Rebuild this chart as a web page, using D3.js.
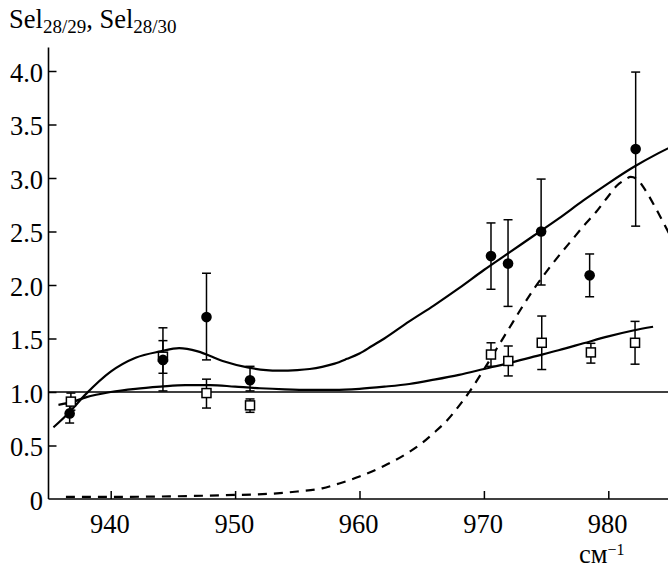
<!DOCTYPE html>
<html>
<head>
<meta charset="utf-8">
<script src="https://cdn.jsdelivr.net/npm/d3@7/dist/d3.min.js"></script>
<style>
  body { margin: 0; background: #fff; }
  svg { display: block; }
  svg text { font-family: "Liberation Serif", "Times New Roman", Times, serif; }
</style>
</head>
<body>
<svg id="chart" width="668" height="569"></svg>
<script>
// Axis ticks
const xTicks = [940, 950, 960, 970, 980];
const yTicks = [0, 0.5, 1.0, 1.5, 2.0, 2.5, 3.0, 3.5, 4.0];

// Sel 28/29 measurements (filled circles) with error bounds
const circWave = [936.7, 944.2, 947.7, 951.2, 970.57, 971.94, 974.6, 978.5, 982.2];
const circVal  = [0.80, 1.30, 1.70, 1.11, 2.27, 2.20, 2.50, 2.09, 3.27];
const circLow  = [0.71, 1.01, 1.30, 1.01, 1.96, 1.80, 2.00, 1.89, 2.55];
const circHigh = [0.89, 1.60, 2.11, 1.24, 2.58, 2.61, 2.99, 2.29, 3.99];

// Sel 28/30 measurements (open squares) with error bounds
const sqWave = [936.8, 944.2, 947.7, 951.2, 970.57, 971.96, 974.65, 978.6, 982.15];
const sqVal  = [0.91, 1.33, 0.99, 0.875, 1.35, 1.29, 1.46, 1.37, 1.46];
const sqLow  = [0.83, 1.175, 0.85, 0.81, 1.24, 1.15, 1.21, 1.27, 1.26];
const sqHigh = [0.99, 1.48, 1.12, 0.935, 1.46, 1.43, 1.71, 1.455, 1.66];

// Calculated curve for Sel 28/29 (upper solid line)
const fit29Wave = [935.4, 936.5, 938, 940, 942, 944, 945.5, 947, 949, 951, 952.5, 953.5, 955, 956, 957, 958, 959, 960, 961, 962, 964, 966, 968, 970, 972, 974, 976, 978, 980, 982, 984, 985.2];
const fit29Val  = [0.67, 0.79, 0.98, 1.19, 1.32, 1.38, 1.41, 1.38, 1.29, 1.23, 1.205, 1.20, 1.205, 1.215, 1.235, 1.265, 1.31, 1.36, 1.43, 1.50, 1.66, 1.81, 1.97, 2.14, 2.30, 2.46, 2.62, 2.79, 2.95, 3.10, 3.23, 3.30];

// Calculated curve for Sel 28/30 (lower solid line)
const fit30Wave = [935.8, 937, 938, 940, 942, 944, 946, 948, 950, 952, 954, 956, 958, 960, 962, 964, 966, 968, 970, 972, 974, 976, 978, 980, 982, 983.6];
const fit30Val  = [0.88, 0.91, 0.95, 1.00, 1.03, 1.05, 1.065, 1.065, 1.05, 1.035, 1.025, 1.02, 1.02, 1.03, 1.05, 1.075, 1.115, 1.16, 1.215, 1.27, 1.33, 1.39, 1.455, 1.52, 1.575, 1.61];

// Absorption profile (dashed line)
const bandWave = [936.4, 940, 945, 949, 953, 955, 957, 958.5, 960, 962, 964, 965, 966, 967, 968, 969, 970, 971, 972, 973, 974, 975, 976, 977, 978, 979, 980, 980.7, 981.3, 981.8, 982.3, 982.9, 983.8, 984.8, 985.5];
const bandVal  = [0.02, 0.02, 0.025, 0.035, 0.05, 0.07, 0.10, 0.15, 0.21, 0.31, 0.44, 0.52, 0.62, 0.73, 0.87, 1.03, 1.21, 1.40, 1.59, 1.78, 1.96, 2.12, 2.27, 2.41, 2.55, 2.68, 2.83, 2.93, 2.98, 3.01, 2.99, 2.90, 2.72, 2.50, 2.34];

const svg = d3.select("#chart");
const W = 668;
const FS = 26.5;     // main text size
const FSsub = 19;    // subscript size

const x = d3.scaleLinear().domain([935, 985]).range([48.5, 670.5]);
const y = d3.scaleLinear().domain([0, 4]).range([499, 71]);

const plot = svg.append("g");

// Clip to the plotting area
svg.append("defs").append("clipPath").attr("id", "clip")
  .append("rect").attr("x", 49).attr("y", 40).attr("width", W - 49).attr("height", 460);

// Axes (ticks point into the plot)
const xAxis = d3.axisBottom(x).tickValues(xTicks).tickSizeInner(-8).tickSizeOuter(0).tickFormat("");
const yAxis = d3.axisLeft(y).tickValues(yTicks.filter(d => d > 0)).tickSizeInner(-8).tickSizeOuter(0).tickFormat("");

const gx = plot.append("g").attr("transform", `translate(0,${y(0)})`).call(xAxis);
const gy = plot.append("g").attr("transform", `translate(${x(935)},0)`).call(yAxis);
[gx, gy].forEach(g => {
  g.select(".domain").remove();
  g.selectAll(".tick line").attr("stroke", "#000").attr("stroke-width", 1.5);
});

// Axis lines
plot.append("line").attr("x1", x(935)).attr("x2", W).attr("y1", y(0)).attr("y2", y(0))
  .attr("stroke", "#000").attr("stroke-width", 1.6);
plot.append("line").attr("x1", x(935)).attr("x2", x(935)).attr("y1", y(4.22)).attr("y2", y(0))
  .attr("stroke", "#000").attr("stroke-width", 1.6);

// Reference level Sel = 1
plot.append("line").attr("x1", x(935)).attr("x2", W).attr("y1", y(1)).attr("y2", y(1))
  .attr("stroke", "#000").attr("stroke-width", 1.4);

// Tick labels
plot.selectAll(".ylab").data(yTicks).join("text")
  .attr("class", "ylab")
  .attr("x", 43).attr("y", d => y(d) + 10.5)
  .attr("text-anchor", "end")
  .attr("font-size", FS)
  .text(d => d === 0 ? "0" : d3.format(".1f")(d));

plot.selectAll(".xlab").data(xTicks).join("text")
  .attr("class", "xlab")
  .attr("x", d => x(d) - 0.8).attr("y", y(0) + 34.3)
  .attr("text-anchor", "middle")
  .attr("font-size", FS)
  .text(d => d);

// Axis titles
const yt = svg.append("text").attr("x", 9).attr("y", 28.3).attr("font-size", FS);
yt.append("tspan").text("Sel");
yt.append("tspan").attr("font-size", FSsub).attr("dy", 5).text("28/29");
yt.append("tspan").attr("dy", -5).text(", Sel");
yt.append("tspan").attr("font-size", FSsub).attr("dy", 5).text("28/30");

const xt = svg.append("text").attr("x", 579).attr("y", 563).attr("font-size", FS);
xt.append("tspan").text("см");
xt.append("tspan").attr("font-size", 16).attr("dy", -8).text("−1");

// Curves
const lineGen = d3.line().x(d => x(d[0])).y(d => y(d[1])).curve(d3.curveMonotoneX);
const curves = plot.append("g").attr("clip-path", "url(#clip)");
curves.append("path").datum(d3.zip(fit29Wave, fit29Val)).attr("d", lineGen)
  .attr("fill", "none").attr("stroke", "#000").attr("stroke-width", 2.2);
curves.append("path").datum(d3.zip(fit30Wave, fit30Val)).attr("d", lineGen)
  .attr("fill", "none").attr("stroke", "#000").attr("stroke-width", 2.2);
curves.append("path").datum(d3.zip(bandWave, bandVal)).attr("d", lineGen)
  .attr("fill", "none").attr("stroke", "#000").attr("stroke-width", 2.2)
  .attr("stroke-dasharray", "9,7");

// Error bars
function errorBars(wave, low, high) {
  const g = plot.append("g").attr("stroke", "#000").attr("stroke-width", 1.5);
  const rows = d3.range(wave.length).map(i => ({ w: wave[i], lo: low[i], hi: high[i] }));
  g.selectAll(".v").data(rows).join("line")
    .attr("x1", d => x(d.w)).attr("x2", d => x(d.w))
    .attr("y1", d => y(d.lo)).attr("y2", d => y(d.hi));
  g.selectAll(".cl").data(rows).join("line")
    .attr("x1", d => x(d.w) - 4.5).attr("x2", d => x(d.w) + 4.5)
    .attr("y1", d => y(d.lo)).attr("y2", d => y(d.lo));
  g.selectAll(".ch").data(rows).join("line")
    .attr("x1", d => x(d.w) - 4.5).attr("x2", d => x(d.w) + 4.5)
    .attr("y1", d => y(d.hi)).attr("y2", d => y(d.hi));
}
errorBars(sqWave, sqLow, sqHigh);
errorBars(circWave, circLow, circHigh);

// Open squares
plot.append("g").selectAll("rect").data(d3.zip(sqWave, sqVal)).join("rect")
  .attr("x", d => x(d[0]) - 4.5).attr("y", d => y(d[1]) - 4.5)
  .attr("width", 9).attr("height", 9)
  .attr("fill", "#fff").attr("stroke", "#000").attr("stroke-width", 1.5);

// Filled circles
plot.append("g").selectAll("circle").data(d3.zip(circWave, circVal)).join("circle")
  .attr("cx", d => x(d[0])).attr("cy", d => y(d[1])).attr("r", 5.3)
  .attr("fill", "#000");
</script>
</body>
</html>
